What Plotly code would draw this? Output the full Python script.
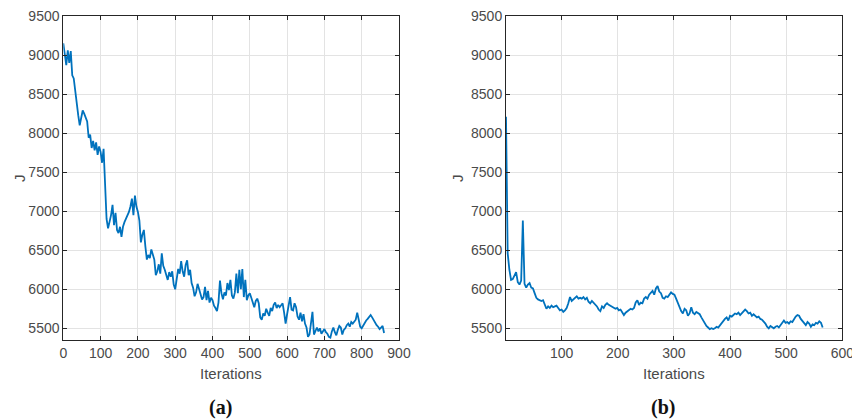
import numpy as np
import plotly.graph_objects as go

# Cost J per iteration, run (a): sampled every 4 iterations starting at 0
a_start, a_step = 0, 4
cost_a = [
    9150, 8980, 8870, 9060, 8900, 9050, 8740, 8700, 8520, 8380,
    8230, 8100, 8190, 8290, 8250, 8200, 8150, 7940, 7980, 7810,
    7900, 7780, 7880, 7720, 7830, 7760, 7620, 7800, 7400, 6900,
    6780, 6850, 6950, 7080, 6820, 6980, 6760, 6720, 6800, 6670,
    6800, 6860, 6900, 6950, 6990, 7060, 7160, 6950, 7200, 7060,
    6990, 6880, 6600, 6700, 6760, 6550, 6380, 6440, 6400, 6510,
    6430, 6380, 6180, 6230, 6320, 6200, 6460, 6300, 6250, 6180,
    6120, 6220, 6160, 6230, 6060, 6000, 6150, 6260, 6200, 6360,
    6230, 6160, 6310, 6370, 6180, 6250, 6080, 6020, 5910, 5960,
    6070, 5990, 5950, 5870, 5900, 6030, 5860, 5980, 5830, 5890,
    5860, 5790, 5760, 5720, 5830, 6110, 5950, 5870, 5960, 5920,
    6080, 5990, 6120, 5920, 5880, 5960, 6200, 5950, 6250, 6000,
    6260, 5900, 6120, 5860, 5920, 5950, 5890, 5810, 5770, 5850,
    5880, 5820, 5640, 5610, 5690, 5660, 5750, 5700, 5660, 5760,
    5720, 5800, 5830, 5760, 5800, 5770, 5800, 5820, 5700, 5560,
    5680, 5820, 5900, 5740, 5730, 5820, 5770, 5650, 5610, 5700,
    5590, 5680, 5560, 5510, 5390, 5420, 5560, 5710, 5420, 5480,
    5510, 5460, 5500, 5430, 5470, 5490, 5450, 5430, 5390, 5380,
    5460, 5510, 5450, 5410, 5480, 5530, 5510, 5420, 5480, 5500,
    5540, 5560, 5520, 5580, 5560, 5590, 5610, 5700, 5590, 5520,
    5500, 5540, 5560, 5600, 5620, 5650, 5670, 5640, 5600, 5560,
    5540, 5520, 5490, 5510, 5530, 5440,
]

# Cost J per iteration, run (b): sampled every 3 iterations starting at 1
b_start, b_step = 1, 3
cost_b = [
    8210, 6460, 6250, 6120, 6130, 6170, 6220, 6090, 6060, 6110,
    6880, 6070, 6020, 6060, 6080, 6020, 6010, 5950, 5890, 5870,
    5860, 5850, 5860, 5800, 5750, 5780, 5760, 5790, 5770, 5780,
    5790, 5760, 5730, 5740, 5710, 5730, 5760, 5820, 5900, 5850,
    5870, 5900, 5910, 5880, 5890, 5880, 5900, 5870, 5890, 5840,
    5820, 5850, 5830, 5800, 5780, 5740, 5720, 5780, 5760, 5800,
    5820, 5800, 5790, 5780, 5760, 5750, 5760, 5730, 5740, 5700,
    5670, 5700, 5720, 5730, 5750, 5740, 5760, 5830, 5860, 5800,
    5830, 5820, 5880, 5900, 5880, 5930, 5950, 5980, 5930, 6010,
    6040, 5970, 5950, 5890, 5880, 5910, 5900, 5940, 5960, 5940,
    5930, 5880, 5820, 5770, 5720, 5690, 5750, 5730, 5660, 5690,
    5770, 5700, 5680, 5710, 5700, 5680, 5640, 5600, 5560, 5530,
    5510, 5490, 5500, 5490, 5500, 5520, 5510, 5540, 5570, 5590,
    5620, 5640, 5600, 5660, 5650, 5670, 5690, 5680, 5700, 5670,
    5690, 5710, 5740, 5720, 5690, 5700, 5660, 5680, 5660, 5640,
    5650, 5620, 5610, 5590, 5560, 5520, 5500, 5530, 5510, 5500,
    5520, 5530, 5510, 5540, 5560, 5600, 5570, 5580, 5560, 5590,
    5580, 5620, 5650, 5670, 5660, 5620, 5590, 5560, 5540, 5580,
    5560, 5520, 5550, 5540, 5570, 5560, 5590, 5570, 5510,
]

iter_a = a_start + a_step * np.arange(len(cost_a))
iter_b = b_start + b_step * np.arange(len(cost_b))

y_range = [5350, 9500]
y_ticks = [5500, 6000, 6500, 7000, 7500, 8000, 8500, 9000, 9500]
xa_ticks = list(range(0, 901, 100))
xb_ticks = list(range(100, 601, 100))

LINE = "#0072BD"
AXIS = "#262626"
TEXT = "#4a4a4a"
GRID = "#e3e3e3"
W, H = 852, 419

fig = go.Figure()
fig.add_trace(go.Scatter(x=iter_a, y=cost_a, mode="lines",
                         line=dict(color=LINE, width=1.8), xaxis="x", yaxis="y"))
fig.add_trace(go.Scatter(x=iter_b, y=cost_b, mode="lines",
                         line=dict(color=LINE, width=1.8), xaxis="x2", yaxis="y2"))

ax_common = dict(showline=True, linecolor=AXIS, linewidth=1, mirror="ticks",
                 ticks="inside", ticklen=4, tickcolor=AXIS, showgrid=True,
                 gridcolor=GRID, gridwidth=1, zeroline=False, automargin=False,
                 ticklabeloverflow="allow",
                 tickfont=dict(family="Liberation Sans, Arial", size=14, color=TEXT))

dom_y = [1 - 340 / H, 1 - 16 / H]
dom_a = [63.3 / W, 399 / W]
dom_b = [506 / W, 842.3 / W]

fig.update_layout(
    width=W, height=H, margin=dict(l=0, r=0, t=0, b=0, autoexpand=False),
    paper_bgcolor="white", plot_bgcolor="white", showlegend=False,
    xaxis=dict(domain=dom_a, range=[0, 900], tickvals=xa_ticks, anchor="y", **ax_common),
    yaxis=dict(domain=dom_y, range=y_range, tickvals=y_ticks, anchor="x", **ax_common),
    xaxis2=dict(domain=dom_b, range=[1, 600], tickvals=xb_ticks, anchor="y2", **ax_common),
    yaxis2=dict(domain=dom_y, range=y_range, tickvals=y_ticks, anchor="x2", **ax_common),
)

lab_font = dict(family="Liberation Sans, Arial", size=15, color=TEXT)
cap_font = dict(family="Liberation Serif, Times New Roman", size=20, color="#111111")

def add_text(text, px, py, font, angle=0):
    fig.add_annotation(text=text, x=px / W, y=1 - py / H, xref="paper", yref="paper",
                       showarrow=False, font=font, textangle=angle,
                       xanchor="center", yanchor="middle")

add_text("Iterations", 231, 373, lab_font)
add_text("Iterations", 674, 373, lab_font)
add_text("J", 20, 178, lab_font, angle=-90)
add_text("J", 458, 178, lab_font, angle=-90)
add_text("<b>(a)</b>", 220, 407, cap_font)
add_text("<b>(b)</b>", 663, 407, cap_font)

fig.write_html("out.html")
